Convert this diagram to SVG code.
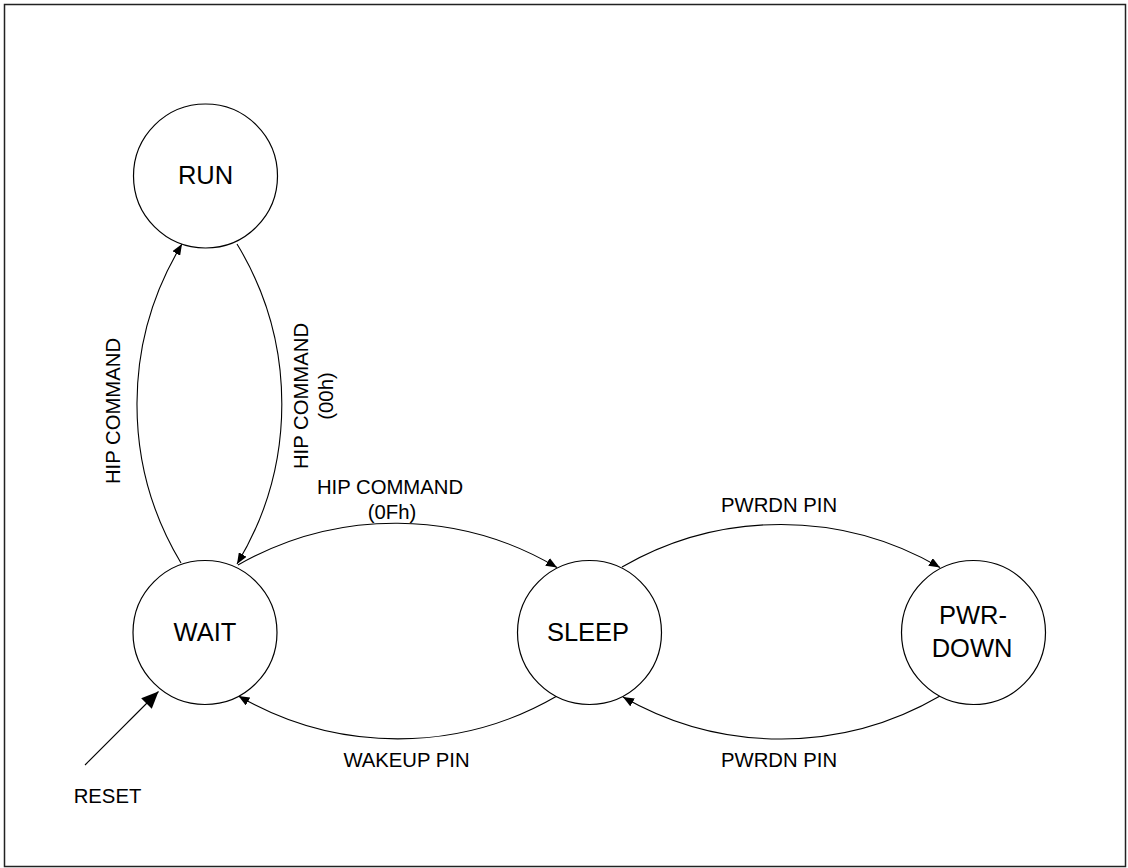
<svg xmlns="http://www.w3.org/2000/svg" width="1128" height="868" viewBox="0 0 1128 868">
<style>
.node{fill:#fff;stroke:#000;stroke-width:1.2}
.nt{font-family:"Liberation Sans",Arial,sans-serif;font-size:25.5px;fill:#000;text-anchor:middle}
.lb{font-family:"Liberation Sans",Arial,sans-serif;font-size:20.3px;fill:#000;text-anchor:middle}
.edge{fill:none;stroke:#000;stroke-width:1.1}
</style>
<defs>
<marker id="ah" markerUnits="userSpaceOnUse" markerWidth="11" markerHeight="9" viewBox="0 0 11 9" refX="11" refY="4.5" orient="auto">
<path d="M0 0 L11 4.5 L0 9 z" fill="#000"/>
</marker>
<marker id="ahBig" markerUnits="userSpaceOnUse" markerWidth="17" markerHeight="15" viewBox="0 0 17 15" refX="17" refY="7.5" orient="auto">
<path d="M0 0 L17 7.5 L0 15 z" fill="#000"/>
</marker>
</defs>
<rect x="4.5" y="4.5" width="1121" height="862" fill="#fff" stroke="#222" stroke-width="1.5"/>
<g id="connectors">
<path class="edge" d="M181 563 A308 308 0 0 1 182 244" marker-end="url(#ah)"/>
<path class="edge" d="M237 244 A308 308 0 0 1 237 564" marker-end="url(#ah)"/>
<path class="edge" d="M238 565 A317 317 0 0 1 557 567.5" marker-end="url(#ah)"/>
<path class="edge" d="M622 567 A317 317 0 0 1 940 567.5" marker-end="url(#ah)"/>
<path class="edge" d="M940 696 A317 317 0 0 1 623 697" marker-end="url(#ah)"/>
<path class="edge" d="M557 696 A317 317 0 0 1 238.5 696" marker-end="url(#ah)"/>
<path class="edge" d="M85 765 L158.5 691.5" marker-end="url(#ahBig)"/>
<text class="lb" transform="translate(120,411) rotate(-90)">HIP COMMAND</text>
<text class="lb" transform="translate(308,396) rotate(-90)">HIP COMMAND<tspan x="0" dy="25">(00h)</tspan></text>
<text class="lb" x="390" y="494">HIP COMMAND</text>
<text class="lb" x="392" y="519">(0Fh)</text>
<text class="lb" x="779" y="511.5">PWRDN PIN</text>
<text class="lb" x="779" y="766.5">PWRDN PIN</text>
<text class="lb" x="406.5" y="767">WAKEUP PIN</text>
<text class="lb" x="107.5" y="803">RESET</text>
</g>
<g id="run"><circle class="node" cx="205.5" cy="176" r="72"/><text class="nt" x="205.5" y="184">RUN</text></g>
<g id="wait"><circle class="node" cx="205" cy="632.5" r="72"/><text class="nt" x="205" y="641">WAIT</text></g>
<g id="sleep"><circle class="node" cx="589.5" cy="632.5" r="72"/><text class="nt" x="588" y="641">SLEEP</text></g>
<g id="pwrdown"><circle class="node" cx="973.5" cy="632.5" r="72"/><text class="nt" x="973" y="624">PWR-</text><text class="nt" x="972" y="656.5">DOWN</text></g>
</svg>
